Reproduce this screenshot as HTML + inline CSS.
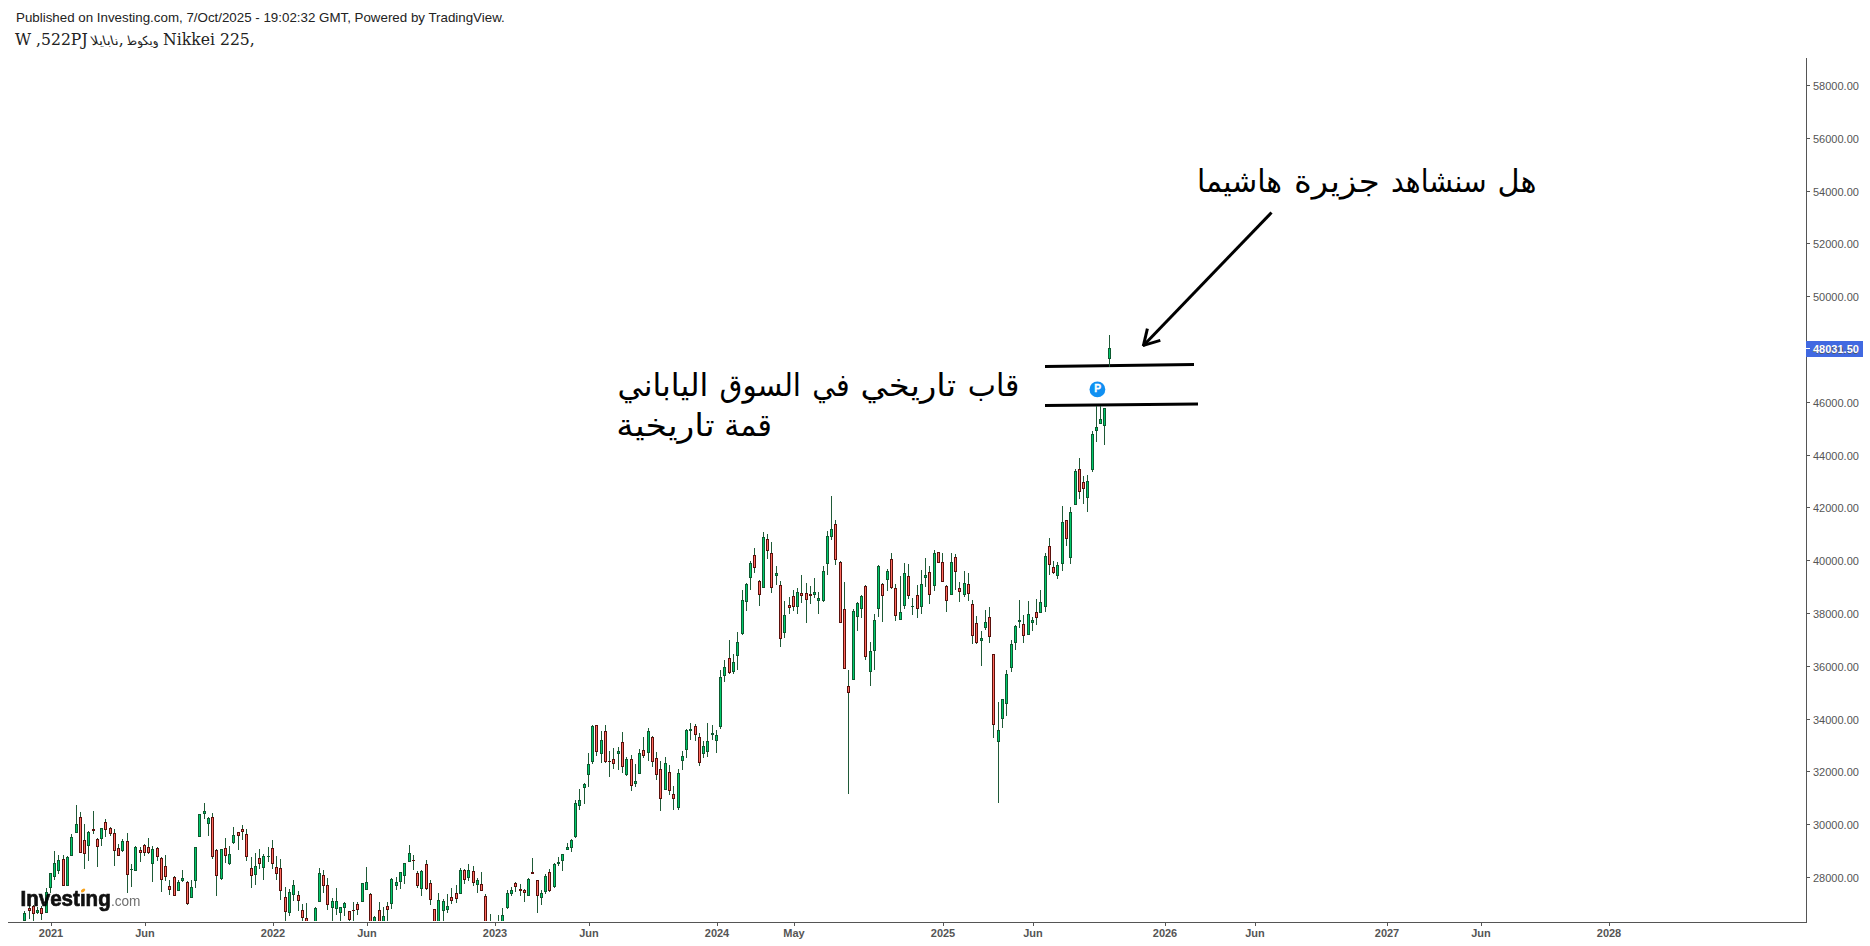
<!DOCTYPE html>
<html lang="ar"><head><meta charset="utf-8"><title>Nikkei 225</title>
<style>
html,body{margin:0;padding:0;background:#fff;}
body{width:1870px;height:946px;position:relative;overflow:hidden;font-family:"Liberation Sans",sans-serif;}
.t{position:absolute;white-space:nowrap;line-height:1;}
.pub{left:16px;top:11px;font-size:13.33px;color:#222;}
.sym{left:15px;top:31px;font-size:17.4px;color:#222;font-family:"DejaVu Serif Condensed","DejaVu Serif","DejaVu Sans",serif;font-stretch:condensed;}
.sa{display:inline-block;font-family:"DejaVu Sans",sans-serif;font-size:12.5px;font-stretch:normal;text-align:center;}
.sa1{width:27px;margin-left:3.5px;margin-right:0.5px;transform:skewX(14deg) scaleX(1.08);}
.sa2{width:30px;margin-left:0px;margin-right:-0.5px;transform:skewX(14deg) scaleX(0.92);}
.yl{font-size:11px;color:#555;left:1813px;}
.xl{font-size:11px;font-weight:bold;color:#555;transform:translateX(-50%);top:928px;}
.pl{left:1813px;top:343.5px;font-size:11px;font-weight:bold;color:#fff;}
.ar{font-family:"DejaVu Sans",sans-serif;color:#000;direction:rtl;}
</style></head><body>

<svg width="1870" height="946" viewBox="0 0 1870 946" style="position:absolute;left:0;top:0" shape-rendering="crispEdges">
<defs><clipPath id="plot"><rect x="8" y="57" width="1798" height="864"/></clipPath></defs>
<g shape-rendering="auto" stroke="#000" fill="none"><line x1="1045" y1="366.5" x2="1194" y2="364.5" stroke-width="3"/><line x1="1045" y1="405.5" x2="1198" y2="404.1" stroke-width="3"/></g>
<g clip-path="url(#plot)">
<rect x="24" y="911" width="1" height="10" fill="#1f5a37"/>
<rect x="23" y="913" width="3" height="8" fill="#0d5a30"/>
<rect x="24" y="914" width="1" height="6" fill="#00c96b"/>
<rect x="29" y="905" width="1" height="14" fill="#1f5a37"/>
<rect x="28" y="908" width="3" height="3" fill="#5a100c"/>
<rect x="29" y="909" width="1" height="1" fill="#ff6a5f"/>
<rect x="33" y="905" width="1" height="16" fill="#1f5a37"/>
<rect x="32" y="906" width="3" height="8" fill="#5a100c"/>
<rect x="33" y="907" width="1" height="6" fill="#ff6a5f"/>
<rect x="37" y="907" width="1" height="7" fill="#1f5a37"/>
<rect x="36" y="910" width="3" height="3" fill="#0d5a30"/>
<rect x="37" y="911" width="1" height="1" fill="#00c96b"/>
<rect x="41" y="906" width="1" height="14" fill="#1f5a37"/>
<rect x="40" y="908" width="3" height="6" fill="#5a100c"/>
<rect x="41" y="909" width="1" height="4" fill="#ff6a5f"/>
<rect x="46" y="888" width="1" height="25" fill="#1f5a37"/>
<rect x="45" y="892" width="3" height="21" fill="#0d5a30"/>
<rect x="46" y="893" width="1" height="19" fill="#00c96b"/>
<rect x="50" y="873" width="1" height="20" fill="#1f5a37"/>
<rect x="49" y="873" width="3" height="15" fill="#0d5a30"/>
<rect x="50" y="874" width="1" height="13" fill="#00c96b"/>
<rect x="54" y="851" width="1" height="29" fill="#1f5a37"/>
<rect x="53" y="863" width="3" height="14" fill="#0d5a30"/>
<rect x="54" y="864" width="1" height="12" fill="#00c96b"/>
<rect x="58" y="855" width="1" height="19" fill="#1f5a37"/>
<rect x="57" y="860" width="3" height="11" fill="#0d5a30"/>
<rect x="58" y="861" width="1" height="9" fill="#00c96b"/>
<rect x="63" y="855" width="1" height="31" fill="#1f5a37"/>
<rect x="62" y="859" width="3" height="27" fill="#5a100c"/>
<rect x="63" y="860" width="1" height="25" fill="#ff6a5f"/>
<rect x="67" y="856" width="1" height="30" fill="#1f5a37"/>
<rect x="66" y="857" width="3" height="29" fill="#0d5a30"/>
<rect x="67" y="858" width="1" height="27" fill="#00c96b"/>
<rect x="71" y="834" width="1" height="22" fill="#1f5a37"/>
<rect x="70" y="837" width="3" height="19" fill="#0d5a30"/>
<rect x="71" y="838" width="1" height="17" fill="#00c96b"/>
<rect x="76" y="805" width="1" height="28" fill="#1f5a37"/>
<rect x="75" y="824" width="3" height="9" fill="#0d5a30"/>
<rect x="76" y="825" width="1" height="7" fill="#00c96b"/>
<rect x="80" y="812" width="1" height="41" fill="#1f5a37"/>
<rect x="79" y="817" width="3" height="36" fill="#5a100c"/>
<rect x="80" y="818" width="1" height="34" fill="#ff6a5f"/>
<rect x="84" y="824" width="1" height="45" fill="#1f5a37"/>
<rect x="83" y="840" width="3" height="14" fill="#5a100c"/>
<rect x="84" y="841" width="1" height="12" fill="#ff6a5f"/>
<rect x="88" y="831" width="1" height="30" fill="#1f5a37"/>
<rect x="87" y="832" width="3" height="14" fill="#0d5a30"/>
<rect x="88" y="833" width="1" height="12" fill="#00c96b"/>
<rect x="93" y="811" width="1" height="23" fill="#1f5a37"/>
<rect x="92" y="829" width="3" height="2" fill="#5a100c"/>
<rect x="97" y="838" width="1" height="29" fill="#1f5a37"/>
<rect x="96" y="839" width="3" height="8" fill="#5a100c"/>
<rect x="97" y="840" width="1" height="6" fill="#ff6a5f"/>
<rect x="101" y="828" width="1" height="18" fill="#1f5a37"/>
<rect x="100" y="828" width="3" height="11" fill="#0d5a30"/>
<rect x="101" y="829" width="1" height="9" fill="#00c96b"/>
<rect x="105" y="819" width="1" height="18" fill="#1f5a37"/>
<rect x="104" y="822" width="3" height="8" fill="#5a100c"/>
<rect x="105" y="823" width="1" height="6" fill="#ff6a5f"/>
<rect x="110" y="827" width="1" height="9" fill="#1f5a37"/>
<rect x="109" y="828" width="3" height="6" fill="#5a100c"/>
<rect x="110" y="829" width="1" height="4" fill="#ff6a5f"/>
<rect x="114" y="829" width="1" height="37" fill="#1f5a37"/>
<rect x="113" y="833" width="3" height="18" fill="#5a100c"/>
<rect x="114" y="834" width="1" height="16" fill="#ff6a5f"/>
<rect x="118" y="844" width="1" height="12" fill="#1f5a37"/>
<rect x="117" y="848" width="3" height="8" fill="#5a100c"/>
<rect x="118" y="849" width="1" height="6" fill="#ff6a5f"/>
<rect x="122" y="839" width="1" height="13" fill="#1f5a37"/>
<rect x="121" y="841" width="3" height="10" fill="#0d5a30"/>
<rect x="122" y="842" width="1" height="8" fill="#00c96b"/>
<rect x="127" y="833" width="1" height="60" fill="#1f5a37"/>
<rect x="126" y="841" width="3" height="34" fill="#5a100c"/>
<rect x="127" y="842" width="1" height="32" fill="#ff6a5f"/>
<rect x="131" y="864" width="1" height="23" fill="#1f5a37"/>
<rect x="130" y="869" width="3" height="1" fill="#0d5a30"/>
<rect x="135" y="846" width="1" height="25" fill="#1f5a37"/>
<rect x="134" y="847" width="3" height="24" fill="#0d5a30"/>
<rect x="135" y="848" width="1" height="22" fill="#00c96b"/>
<rect x="140" y="847" width="1" height="15" fill="#1f5a37"/>
<rect x="139" y="850" width="3" height="3" fill="#5a100c"/>
<rect x="140" y="851" width="1" height="1" fill="#ff6a5f"/>
<rect x="144" y="844" width="1" height="12" fill="#1f5a37"/>
<rect x="143" y="845" width="3" height="8" fill="#5a100c"/>
<rect x="144" y="846" width="1" height="6" fill="#ff6a5f"/>
<rect x="148" y="838" width="1" height="16" fill="#1f5a37"/>
<rect x="147" y="847" width="3" height="6" fill="#5a100c"/>
<rect x="148" y="848" width="1" height="4" fill="#ff6a5f"/>
<rect x="152" y="846" width="1" height="36" fill="#1f5a37"/>
<rect x="151" y="849" width="3" height="15" fill="#0d5a30"/>
<rect x="152" y="850" width="1" height="13" fill="#00c96b"/>
<rect x="157" y="847" width="1" height="14" fill="#1f5a37"/>
<rect x="156" y="848" width="3" height="9" fill="#5a100c"/>
<rect x="157" y="849" width="1" height="7" fill="#ff6a5f"/>
<rect x="161" y="857" width="1" height="35" fill="#1f5a37"/>
<rect x="160" y="858" width="3" height="22" fill="#5a100c"/>
<rect x="161" y="859" width="1" height="20" fill="#ff6a5f"/>
<rect x="165" y="855" width="1" height="26" fill="#1f5a37"/>
<rect x="164" y="866" width="3" height="11" fill="#5a100c"/>
<rect x="165" y="867" width="1" height="9" fill="#ff6a5f"/>
<rect x="169" y="880" width="1" height="15" fill="#1f5a37"/>
<rect x="168" y="886" width="3" height="4" fill="#5a100c"/>
<rect x="169" y="887" width="1" height="2" fill="#ff6a5f"/>
<rect x="174" y="876" width="1" height="20" fill="#1f5a37"/>
<rect x="173" y="877" width="3" height="19" fill="#5a100c"/>
<rect x="174" y="878" width="1" height="17" fill="#ff6a5f"/>
<rect x="178" y="880" width="1" height="11" fill="#1f5a37"/>
<rect x="177" y="882" width="3" height="9" fill="#0d5a30"/>
<rect x="178" y="883" width="1" height="7" fill="#00c96b"/>
<rect x="182" y="870" width="1" height="12" fill="#1f5a37"/>
<rect x="181" y="878" width="3" height="3" fill="#0d5a30"/>
<rect x="182" y="879" width="1" height="1" fill="#00c96b"/>
<rect x="187" y="881" width="1" height="24" fill="#1f5a37"/>
<rect x="186" y="882" width="3" height="22" fill="#5a100c"/>
<rect x="187" y="883" width="1" height="20" fill="#ff6a5f"/>
<rect x="191" y="880" width="1" height="18" fill="#1f5a37"/>
<rect x="190" y="887" width="3" height="11" fill="#0d5a30"/>
<rect x="191" y="888" width="1" height="9" fill="#00c96b"/>
<rect x="195" y="847" width="1" height="41" fill="#1f5a37"/>
<rect x="194" y="847" width="3" height="34" fill="#0d5a30"/>
<rect x="195" y="848" width="1" height="32" fill="#00c96b"/>
<rect x="199" y="814" width="1" height="23" fill="#1f5a37"/>
<rect x="198" y="814" width="3" height="23" fill="#0d5a30"/>
<rect x="199" y="815" width="1" height="21" fill="#00c96b"/>
<rect x="204" y="803" width="1" height="16" fill="#1f5a37"/>
<rect x="203" y="811" width="3" height="3" fill="#0d5a30"/>
<rect x="204" y="812" width="1" height="1" fill="#00c96b"/>
<rect x="208" y="817" width="1" height="19" fill="#1f5a37"/>
<rect x="207" y="818" width="3" height="6" fill="#0d5a30"/>
<rect x="208" y="819" width="1" height="4" fill="#00c96b"/>
<rect x="212" y="813" width="1" height="46" fill="#1f5a37"/>
<rect x="211" y="817" width="3" height="40" fill="#5a100c"/>
<rect x="212" y="818" width="1" height="38" fill="#ff6a5f"/>
<rect x="216" y="849" width="1" height="47" fill="#1f5a37"/>
<rect x="215" y="850" width="3" height="26" fill="#5a100c"/>
<rect x="216" y="851" width="1" height="24" fill="#ff6a5f"/>
<rect x="221" y="849" width="1" height="31" fill="#1f5a37"/>
<rect x="220" y="849" width="3" height="30" fill="#0d5a30"/>
<rect x="221" y="850" width="1" height="28" fill="#00c96b"/>
<rect x="225" y="838" width="1" height="25" fill="#1f5a37"/>
<rect x="224" y="848" width="3" height="8" fill="#5a100c"/>
<rect x="225" y="849" width="1" height="6" fill="#ff6a5f"/>
<rect x="229" y="846" width="1" height="19" fill="#1f5a37"/>
<rect x="228" y="854" width="3" height="10" fill="#0d5a30"/>
<rect x="229" y="855" width="1" height="8" fill="#00c96b"/>
<rect x="233" y="827" width="1" height="17" fill="#1f5a37"/>
<rect x="232" y="835" width="3" height="8" fill="#0d5a30"/>
<rect x="233" y="836" width="1" height="6" fill="#00c96b"/>
<rect x="238" y="832" width="1" height="18" fill="#1f5a37"/>
<rect x="237" y="832" width="3" height="4" fill="#5a100c"/>
<rect x="238" y="833" width="1" height="2" fill="#ff6a5f"/>
<rect x="242" y="825" width="1" height="15" fill="#1f5a37"/>
<rect x="241" y="829" width="3" height="3" fill="#5a100c"/>
<rect x="242" y="830" width="1" height="1" fill="#ff6a5f"/>
<rect x="246" y="829" width="1" height="32" fill="#1f5a37"/>
<rect x="245" y="834" width="3" height="23" fill="#5a100c"/>
<rect x="246" y="835" width="1" height="21" fill="#ff6a5f"/>
<rect x="251" y="857" width="1" height="31" fill="#1f5a37"/>
<rect x="250" y="868" width="3" height="8" fill="#5a100c"/>
<rect x="251" y="869" width="1" height="6" fill="#ff6a5f"/>
<rect x="255" y="853" width="1" height="32" fill="#1f5a37"/>
<rect x="254" y="866" width="3" height="9" fill="#0d5a30"/>
<rect x="255" y="867" width="1" height="7" fill="#00c96b"/>
<rect x="259" y="849" width="1" height="20" fill="#1f5a37"/>
<rect x="258" y="858" width="3" height="6" fill="#5a100c"/>
<rect x="259" y="859" width="1" height="4" fill="#ff6a5f"/>
<rect x="263" y="854" width="1" height="26" fill="#1f5a37"/>
<rect x="262" y="856" width="3" height="12" fill="#0d5a30"/>
<rect x="263" y="857" width="1" height="10" fill="#00c96b"/>
<rect x="268" y="847" width="1" height="15" fill="#1f5a37"/>
<rect x="267" y="856" width="3" height="1" fill="#0d5a30"/>
<rect x="272" y="840" width="1" height="29" fill="#1f5a37"/>
<rect x="271" y="848" width="3" height="16" fill="#5a100c"/>
<rect x="272" y="849" width="1" height="14" fill="#ff6a5f"/>
<rect x="276" y="856" width="1" height="24" fill="#1f5a37"/>
<rect x="275" y="867" width="3" height="7" fill="#5a100c"/>
<rect x="276" y="868" width="1" height="5" fill="#ff6a5f"/>
<rect x="280" y="859" width="1" height="41" fill="#1f5a37"/>
<rect x="279" y="868" width="3" height="23" fill="#5a100c"/>
<rect x="280" y="869" width="1" height="21" fill="#ff6a5f"/>
<rect x="285" y="887" width="1" height="39" fill="#1f5a37"/>
<rect x="284" y="897" width="3" height="15" fill="#5a100c"/>
<rect x="285" y="898" width="1" height="13" fill="#ff6a5f"/>
<rect x="289" y="889" width="1" height="27" fill="#1f5a37"/>
<rect x="288" y="892" width="3" height="21" fill="#0d5a30"/>
<rect x="289" y="893" width="1" height="19" fill="#00c96b"/>
<rect x="293" y="880" width="1" height="21" fill="#1f5a37"/>
<rect x="292" y="885" width="3" height="10" fill="#0d5a30"/>
<rect x="293" y="886" width="1" height="8" fill="#00c96b"/>
<rect x="298" y="891" width="1" height="20" fill="#1f5a37"/>
<rect x="297" y="895" width="3" height="6" fill="#5a100c"/>
<rect x="298" y="896" width="1" height="4" fill="#ff6a5f"/>
<rect x="302" y="904" width="1" height="22" fill="#1f5a37"/>
<rect x="301" y="910" width="3" height="8" fill="#5a100c"/>
<rect x="302" y="911" width="1" height="6" fill="#ff6a5f"/>
<rect x="306" y="903" width="1" height="28" fill="#1f5a37"/>
<rect x="305" y="918" width="3" height="11" fill="#5a100c"/>
<rect x="306" y="919" width="1" height="9" fill="#ff6a5f"/>
<rect x="315" y="907" width="1" height="24" fill="#1f5a37"/>
<rect x="314" y="908" width="3" height="21" fill="#0d5a30"/>
<rect x="315" y="909" width="1" height="19" fill="#00c96b"/>
<rect x="319" y="868" width="1" height="34" fill="#1f5a37"/>
<rect x="318" y="873" width="3" height="29" fill="#0d5a30"/>
<rect x="319" y="874" width="1" height="27" fill="#00c96b"/>
<rect x="323" y="870" width="1" height="23" fill="#1f5a37"/>
<rect x="322" y="875" width="3" height="11" fill="#5a100c"/>
<rect x="323" y="876" width="1" height="9" fill="#ff6a5f"/>
<rect x="327" y="878" width="1" height="32" fill="#1f5a37"/>
<rect x="326" y="885" width="3" height="20" fill="#5a100c"/>
<rect x="327" y="886" width="1" height="18" fill="#ff6a5f"/>
<rect x="332" y="898" width="1" height="28" fill="#1f5a37"/>
<rect x="331" y="901" width="3" height="7" fill="#0d5a30"/>
<rect x="332" y="902" width="1" height="5" fill="#00c96b"/>
<rect x="336" y="888" width="1" height="27" fill="#1f5a37"/>
<rect x="335" y="901" width="3" height="8" fill="#0d5a30"/>
<rect x="336" y="902" width="1" height="6" fill="#00c96b"/>
<rect x="340" y="907" width="1" height="19" fill="#1f5a37"/>
<rect x="339" y="907" width="3" height="6" fill="#0d5a30"/>
<rect x="340" y="908" width="1" height="4" fill="#00c96b"/>
<rect x="344" y="902" width="1" height="14" fill="#1f5a37"/>
<rect x="343" y="903" width="3" height="5" fill="#0d5a30"/>
<rect x="344" y="904" width="1" height="3" fill="#00c96b"/>
<rect x="349" y="911" width="1" height="10" fill="#1f5a37"/>
<rect x="348" y="911" width="3" height="9" fill="#5a100c"/>
<rect x="349" y="912" width="1" height="7" fill="#ff6a5f"/>
<rect x="353" y="902" width="1" height="24" fill="#1f5a37"/>
<rect x="352" y="910" width="3" height="1" fill="#5a100c"/>
<rect x="357" y="902" width="1" height="13" fill="#1f5a37"/>
<rect x="356" y="904" width="3" height="6" fill="#5a100c"/>
<rect x="357" y="905" width="1" height="4" fill="#ff6a5f"/>
<rect x="362" y="883" width="1" height="19" fill="#1f5a37"/>
<rect x="361" y="883" width="3" height="19" fill="#0d5a30"/>
<rect x="362" y="884" width="1" height="17" fill="#00c96b"/>
<rect x="366" y="867" width="1" height="23" fill="#1f5a37"/>
<rect x="365" y="882" width="3" height="8" fill="#0d5a30"/>
<rect x="366" y="883" width="1" height="6" fill="#00c96b"/>
<rect x="370" y="893" width="1" height="38" fill="#1f5a37"/>
<rect x="369" y="894" width="3" height="35" fill="#5a100c"/>
<rect x="370" y="895" width="1" height="33" fill="#ff6a5f"/>
<rect x="374" y="916" width="1" height="15" fill="#1f5a37"/>
<rect x="373" y="917" width="3" height="12" fill="#0d5a30"/>
<rect x="374" y="918" width="1" height="10" fill="#00c96b"/>
<rect x="379" y="902" width="1" height="29" fill="#1f5a37"/>
<rect x="378" y="910" width="3" height="19" fill="#5a100c"/>
<rect x="379" y="911" width="1" height="17" fill="#ff6a5f"/>
<rect x="383" y="907" width="1" height="24" fill="#1f5a37"/>
<rect x="382" y="916" width="3" height="13" fill="#0d5a30"/>
<rect x="383" y="917" width="1" height="11" fill="#00c96b"/>
<rect x="387" y="902" width="1" height="24" fill="#1f5a37"/>
<rect x="386" y="906" width="3" height="4" fill="#5a100c"/>
<rect x="387" y="907" width="1" height="2" fill="#ff6a5f"/>
<rect x="391" y="878" width="1" height="31" fill="#1f5a37"/>
<rect x="390" y="879" width="3" height="25" fill="#0d5a30"/>
<rect x="391" y="880" width="1" height="23" fill="#00c96b"/>
<rect x="396" y="877" width="1" height="13" fill="#1f5a37"/>
<rect x="395" y="882" width="3" height="4" fill="#0d5a30"/>
<rect x="396" y="883" width="1" height="2" fill="#00c96b"/>
<rect x="400" y="872" width="1" height="17" fill="#1f5a37"/>
<rect x="399" y="872" width="3" height="10" fill="#0d5a30"/>
<rect x="400" y="873" width="1" height="8" fill="#00c96b"/>
<rect x="404" y="863" width="1" height="21" fill="#1f5a37"/>
<rect x="403" y="863" width="3" height="13" fill="#0d5a30"/>
<rect x="404" y="864" width="1" height="11" fill="#00c96b"/>
<rect x="409" y="845" width="1" height="17" fill="#1f5a37"/>
<rect x="408" y="853" width="3" height="9" fill="#0d5a30"/>
<rect x="409" y="854" width="1" height="7" fill="#00c96b"/>
<rect x="413" y="855" width="1" height="15" fill="#1f5a37"/>
<rect x="412" y="860" width="3" height="1" fill="#5a100c"/>
<rect x="417" y="871" width="1" height="17" fill="#1f5a37"/>
<rect x="416" y="873" width="3" height="13" fill="#5a100c"/>
<rect x="417" y="874" width="1" height="11" fill="#ff6a5f"/>
<rect x="421" y="870" width="1" height="26" fill="#1f5a37"/>
<rect x="420" y="871" width="3" height="18" fill="#0d5a30"/>
<rect x="421" y="872" width="1" height="16" fill="#00c96b"/>
<rect x="426" y="860" width="1" height="30" fill="#1f5a37"/>
<rect x="425" y="864" width="3" height="25" fill="#5a100c"/>
<rect x="426" y="865" width="1" height="23" fill="#ff6a5f"/>
<rect x="430" y="880" width="1" height="25" fill="#1f5a37"/>
<rect x="429" y="883" width="3" height="17" fill="#5a100c"/>
<rect x="430" y="884" width="1" height="15" fill="#ff6a5f"/>
<rect x="434" y="909" width="1" height="22" fill="#1f5a37"/>
<rect x="433" y="909" width="3" height="20" fill="#5a100c"/>
<rect x="434" y="910" width="1" height="18" fill="#ff6a5f"/>
<rect x="438" y="893" width="1" height="38" fill="#1f5a37"/>
<rect x="437" y="900" width="3" height="29" fill="#0d5a30"/>
<rect x="438" y="901" width="1" height="27" fill="#00c96b"/>
<rect x="443" y="899" width="1" height="27" fill="#1f5a37"/>
<rect x="442" y="901" width="3" height="10" fill="#0d5a30"/>
<rect x="443" y="902" width="1" height="8" fill="#00c96b"/>
<rect x="447" y="894" width="1" height="19" fill="#1f5a37"/>
<rect x="446" y="906" width="3" height="4" fill="#0d5a30"/>
<rect x="447" y="907" width="1" height="2" fill="#00c96b"/>
<rect x="451" y="888" width="1" height="16" fill="#1f5a37"/>
<rect x="450" y="897" width="3" height="4" fill="#5a100c"/>
<rect x="451" y="898" width="1" height="2" fill="#ff6a5f"/>
<rect x="456" y="885" width="1" height="18" fill="#1f5a37"/>
<rect x="455" y="893" width="3" height="6" fill="#5a100c"/>
<rect x="456" y="894" width="1" height="4" fill="#ff6a5f"/>
<rect x="460" y="868" width="1" height="26" fill="#1f5a37"/>
<rect x="459" y="870" width="3" height="24" fill="#0d5a30"/>
<rect x="460" y="871" width="1" height="22" fill="#00c96b"/>
<rect x="464" y="869" width="1" height="15" fill="#1f5a37"/>
<rect x="463" y="870" width="3" height="10" fill="#5a100c"/>
<rect x="464" y="871" width="1" height="8" fill="#ff6a5f"/>
<rect x="468" y="864" width="1" height="17" fill="#1f5a37"/>
<rect x="467" y="870" width="3" height="8" fill="#0d5a30"/>
<rect x="468" y="871" width="1" height="6" fill="#00c96b"/>
<rect x="473" y="866" width="1" height="20" fill="#1f5a37"/>
<rect x="472" y="871" width="3" height="12" fill="#5a100c"/>
<rect x="473" y="872" width="1" height="10" fill="#ff6a5f"/>
<rect x="477" y="878" width="1" height="15" fill="#1f5a37"/>
<rect x="476" y="880" width="3" height="5" fill="#0d5a30"/>
<rect x="477" y="881" width="1" height="3" fill="#00c96b"/>
<rect x="481" y="872" width="1" height="19" fill="#1f5a37"/>
<rect x="480" y="884" width="3" height="7" fill="#5a100c"/>
<rect x="481" y="885" width="1" height="5" fill="#ff6a5f"/>
<rect x="485" y="894" width="1" height="37" fill="#1f5a37"/>
<rect x="484" y="896" width="3" height="33" fill="#5a100c"/>
<rect x="485" y="897" width="1" height="31" fill="#ff6a5f"/>
<rect x="490" y="914" width="1" height="17" fill="#1f5a37"/>
<rect x="489" y="926" width="3" height="3" fill="#0d5a30"/>
<rect x="490" y="927" width="1" height="1" fill="#00c96b"/>
<rect x="498" y="915" width="1" height="16" fill="#1f5a37"/>
<rect x="497" y="926" width="3" height="3" fill="#0d5a30"/>
<rect x="498" y="927" width="1" height="1" fill="#00c96b"/>
<rect x="502" y="908" width="1" height="23" fill="#1f5a37"/>
<rect x="501" y="915" width="3" height="14" fill="#0d5a30"/>
<rect x="502" y="916" width="1" height="12" fill="#00c96b"/>
<rect x="507" y="890" width="1" height="19" fill="#1f5a37"/>
<rect x="506" y="893" width="3" height="15" fill="#0d5a30"/>
<rect x="507" y="894" width="1" height="13" fill="#00c96b"/>
<rect x="511" y="887" width="1" height="9" fill="#1f5a37"/>
<rect x="510" y="890" width="3" height="4" fill="#0d5a30"/>
<rect x="511" y="891" width="1" height="2" fill="#00c96b"/>
<rect x="515" y="882" width="1" height="10" fill="#1f5a37"/>
<rect x="514" y="883" width="3" height="4" fill="#5a100c"/>
<rect x="515" y="884" width="1" height="2" fill="#ff6a5f"/>
<rect x="520" y="884" width="1" height="12" fill="#1f5a37"/>
<rect x="519" y="889" width="3" height="2" fill="#5a100c"/>
<rect x="524" y="889" width="1" height="13" fill="#1f5a37"/>
<rect x="523" y="890" width="3" height="3" fill="#5a100c"/>
<rect x="524" y="891" width="1" height="1" fill="#ff6a5f"/>
<rect x="528" y="878" width="1" height="18" fill="#1f5a37"/>
<rect x="527" y="879" width="3" height="17" fill="#0d5a30"/>
<rect x="528" y="880" width="1" height="15" fill="#00c96b"/>
<rect x="532" y="858" width="1" height="16" fill="#1f5a37"/>
<rect x="531" y="872" width="3" height="2" fill="#5a100c"/>
<rect x="537" y="880" width="1" height="33" fill="#1f5a37"/>
<rect x="536" y="880" width="3" height="16" fill="#5a100c"/>
<rect x="537" y="881" width="1" height="14" fill="#ff6a5f"/>
<rect x="541" y="890" width="1" height="15" fill="#1f5a37"/>
<rect x="540" y="893" width="3" height="5" fill="#0d5a30"/>
<rect x="541" y="894" width="1" height="3" fill="#00c96b"/>
<rect x="545" y="874" width="1" height="20" fill="#1f5a37"/>
<rect x="544" y="876" width="3" height="16" fill="#0d5a30"/>
<rect x="545" y="877" width="1" height="14" fill="#00c96b"/>
<rect x="549" y="869" width="1" height="23" fill="#1f5a37"/>
<rect x="548" y="872" width="3" height="19" fill="#5a100c"/>
<rect x="549" y="873" width="1" height="17" fill="#ff6a5f"/>
<rect x="554" y="863" width="1" height="25" fill="#1f5a37"/>
<rect x="553" y="864" width="3" height="23" fill="#0d5a30"/>
<rect x="554" y="865" width="1" height="21" fill="#00c96b"/>
<rect x="558" y="857" width="1" height="9" fill="#1f5a37"/>
<rect x="557" y="862" width="3" height="2" fill="#0d5a30"/>
<rect x="562" y="854" width="1" height="17" fill="#1f5a37"/>
<rect x="561" y="854" width="3" height="7" fill="#0d5a30"/>
<rect x="562" y="855" width="1" height="5" fill="#00c96b"/>
<rect x="567" y="843" width="1" height="7" fill="#1f5a37"/>
<rect x="566" y="847" width="3" height="3" fill="#0d5a30"/>
<rect x="567" y="848" width="1" height="1" fill="#00c96b"/>
<rect x="571" y="839" width="1" height="13" fill="#1f5a37"/>
<rect x="570" y="840" width="3" height="8" fill="#0d5a30"/>
<rect x="571" y="841" width="1" height="6" fill="#00c96b"/>
<rect x="575" y="800" width="1" height="38" fill="#1f5a37"/>
<rect x="574" y="803" width="3" height="34" fill="#0d5a30"/>
<rect x="575" y="804" width="1" height="32" fill="#00c96b"/>
<rect x="579" y="789" width="1" height="21" fill="#1f5a37"/>
<rect x="578" y="800" width="3" height="6" fill="#0d5a30"/>
<rect x="579" y="801" width="1" height="4" fill="#00c96b"/>
<rect x="584" y="783" width="1" height="21" fill="#1f5a37"/>
<rect x="583" y="784" width="3" height="4" fill="#0d5a30"/>
<rect x="584" y="785" width="1" height="2" fill="#00c96b"/>
<rect x="588" y="753" width="1" height="34" fill="#1f5a37"/>
<rect x="587" y="764" width="3" height="11" fill="#0d5a30"/>
<rect x="588" y="765" width="1" height="9" fill="#00c96b"/>
<rect x="592" y="725" width="1" height="39" fill="#1f5a37"/>
<rect x="591" y="726" width="3" height="36" fill="#0d5a30"/>
<rect x="592" y="727" width="1" height="34" fill="#00c96b"/>
<rect x="596" y="725" width="1" height="31" fill="#1f5a37"/>
<rect x="595" y="725" width="3" height="27" fill="#5a100c"/>
<rect x="596" y="726" width="1" height="25" fill="#ff6a5f"/>
<rect x="601" y="731" width="1" height="32" fill="#1f5a37"/>
<rect x="600" y="740" width="3" height="14" fill="#0d5a30"/>
<rect x="601" y="741" width="1" height="12" fill="#00c96b"/>
<rect x="605" y="725" width="1" height="38" fill="#1f5a37"/>
<rect x="604" y="731" width="3" height="31" fill="#5a100c"/>
<rect x="605" y="732" width="1" height="29" fill="#ff6a5f"/>
<rect x="609" y="751" width="1" height="26" fill="#1f5a37"/>
<rect x="608" y="761" width="3" height="1" fill="#5a100c"/>
<rect x="613" y="748" width="1" height="21" fill="#1f5a37"/>
<rect x="612" y="759" width="3" height="5" fill="#5a100c"/>
<rect x="613" y="760" width="1" height="3" fill="#ff6a5f"/>
<rect x="618" y="747" width="1" height="23" fill="#1f5a37"/>
<rect x="617" y="751" width="3" height="3" fill="#0d5a30"/>
<rect x="618" y="752" width="1" height="1" fill="#00c96b"/>
<rect x="622" y="732" width="1" height="41" fill="#1f5a37"/>
<rect x="621" y="742" width="3" height="25" fill="#5a100c"/>
<rect x="622" y="743" width="1" height="23" fill="#ff6a5f"/>
<rect x="626" y="757" width="1" height="19" fill="#1f5a37"/>
<rect x="625" y="759" width="3" height="16" fill="#0d5a30"/>
<rect x="626" y="760" width="1" height="14" fill="#00c96b"/>
<rect x="631" y="755" width="1" height="36" fill="#1f5a37"/>
<rect x="630" y="759" width="3" height="27" fill="#5a100c"/>
<rect x="631" y="760" width="1" height="25" fill="#ff6a5f"/>
<rect x="635" y="764" width="1" height="23" fill="#1f5a37"/>
<rect x="634" y="781" width="3" height="3" fill="#0d5a30"/>
<rect x="635" y="782" width="1" height="1" fill="#00c96b"/>
<rect x="639" y="749" width="1" height="25" fill="#1f5a37"/>
<rect x="638" y="753" width="3" height="21" fill="#0d5a30"/>
<rect x="639" y="754" width="1" height="19" fill="#00c96b"/>
<rect x="643" y="737" width="1" height="21" fill="#1f5a37"/>
<rect x="642" y="750" width="3" height="6" fill="#5a100c"/>
<rect x="643" y="751" width="1" height="4" fill="#ff6a5f"/>
<rect x="648" y="728" width="1" height="33" fill="#1f5a37"/>
<rect x="647" y="731" width="3" height="22" fill="#0d5a30"/>
<rect x="648" y="732" width="1" height="20" fill="#00c96b"/>
<rect x="652" y="736" width="1" height="31" fill="#1f5a37"/>
<rect x="651" y="737" width="3" height="25" fill="#5a100c"/>
<rect x="652" y="738" width="1" height="23" fill="#ff6a5f"/>
<rect x="656" y="752" width="1" height="28" fill="#1f5a37"/>
<rect x="655" y="758" width="3" height="17" fill="#5a100c"/>
<rect x="656" y="759" width="1" height="15" fill="#ff6a5f"/>
<rect x="660" y="761" width="1" height="50" fill="#1f5a37"/>
<rect x="659" y="769" width="3" height="30" fill="#5a100c"/>
<rect x="660" y="770" width="1" height="28" fill="#ff6a5f"/>
<rect x="665" y="757" width="1" height="33" fill="#1f5a37"/>
<rect x="664" y="763" width="3" height="27" fill="#0d5a30"/>
<rect x="665" y="764" width="1" height="25" fill="#00c96b"/>
<rect x="669" y="765" width="1" height="30" fill="#1f5a37"/>
<rect x="668" y="772" width="3" height="19" fill="#5a100c"/>
<rect x="669" y="773" width="1" height="17" fill="#ff6a5f"/>
<rect x="673" y="786" width="1" height="24" fill="#1f5a37"/>
<rect x="672" y="794" width="3" height="5" fill="#5a100c"/>
<rect x="673" y="795" width="1" height="3" fill="#ff6a5f"/>
<rect x="678" y="769" width="1" height="41" fill="#1f5a37"/>
<rect x="677" y="773" width="3" height="35" fill="#0d5a30"/>
<rect x="678" y="774" width="1" height="33" fill="#00c96b"/>
<rect x="682" y="751" width="1" height="19" fill="#1f5a37"/>
<rect x="681" y="756" width="3" height="5" fill="#0d5a30"/>
<rect x="682" y="757" width="1" height="3" fill="#00c96b"/>
<rect x="686" y="729" width="1" height="29" fill="#1f5a37"/>
<rect x="685" y="730" width="3" height="20" fill="#0d5a30"/>
<rect x="686" y="731" width="1" height="18" fill="#00c96b"/>
<rect x="690" y="723" width="1" height="17" fill="#1f5a37"/>
<rect x="689" y="729" width="3" height="2" fill="#0d5a30"/>
<rect x="695" y="724" width="1" height="17" fill="#1f5a37"/>
<rect x="694" y="726" width="3" height="9" fill="#5a100c"/>
<rect x="695" y="727" width="1" height="7" fill="#ff6a5f"/>
<rect x="699" y="733" width="1" height="33" fill="#1f5a37"/>
<rect x="698" y="737" width="3" height="26" fill="#5a100c"/>
<rect x="699" y="738" width="1" height="24" fill="#ff6a5f"/>
<rect x="703" y="741" width="1" height="17" fill="#1f5a37"/>
<rect x="702" y="746" width="3" height="8" fill="#0d5a30"/>
<rect x="703" y="747" width="1" height="6" fill="#00c96b"/>
<rect x="707" y="723" width="1" height="34" fill="#1f5a37"/>
<rect x="706" y="741" width="3" height="11" fill="#0d5a30"/>
<rect x="707" y="742" width="1" height="9" fill="#00c96b"/>
<rect x="712" y="725" width="1" height="15" fill="#1f5a37"/>
<rect x="711" y="733" width="3" height="2" fill="#0d5a30"/>
<rect x="716" y="730" width="1" height="23" fill="#1f5a37"/>
<rect x="715" y="735" width="3" height="6" fill="#0d5a30"/>
<rect x="716" y="736" width="1" height="4" fill="#00c96b"/>
<rect x="720" y="670" width="1" height="59" fill="#1f5a37"/>
<rect x="719" y="677" width="3" height="50" fill="#0d5a30"/>
<rect x="720" y="678" width="1" height="48" fill="#00c96b"/>
<rect x="724" y="660" width="1" height="22" fill="#1f5a37"/>
<rect x="723" y="667" width="3" height="9" fill="#0d5a30"/>
<rect x="724" y="668" width="1" height="7" fill="#00c96b"/>
<rect x="729" y="640" width="1" height="34" fill="#1f5a37"/>
<rect x="728" y="658" width="3" height="15" fill="#5a100c"/>
<rect x="729" y="659" width="1" height="13" fill="#ff6a5f"/>
<rect x="733" y="654" width="1" height="20" fill="#1f5a37"/>
<rect x="732" y="662" width="3" height="10" fill="#0d5a30"/>
<rect x="733" y="663" width="1" height="8" fill="#00c96b"/>
<rect x="737" y="632" width="1" height="38" fill="#1f5a37"/>
<rect x="736" y="642" width="3" height="14" fill="#0d5a30"/>
<rect x="737" y="643" width="1" height="12" fill="#00c96b"/>
<rect x="742" y="590" width="1" height="45" fill="#1f5a37"/>
<rect x="741" y="600" width="3" height="34" fill="#0d5a30"/>
<rect x="742" y="601" width="1" height="32" fill="#00c96b"/>
<rect x="746" y="583" width="1" height="28" fill="#1f5a37"/>
<rect x="745" y="584" width="3" height="18" fill="#0d5a30"/>
<rect x="746" y="585" width="1" height="16" fill="#00c96b"/>
<rect x="750" y="561" width="1" height="29" fill="#1f5a37"/>
<rect x="749" y="563" width="3" height="15" fill="#0d5a30"/>
<rect x="750" y="564" width="1" height="13" fill="#00c96b"/>
<rect x="754" y="548" width="1" height="25" fill="#1f5a37"/>
<rect x="753" y="555" width="3" height="13" fill="#5a100c"/>
<rect x="754" y="556" width="1" height="11" fill="#ff6a5f"/>
<rect x="759" y="580" width="1" height="26" fill="#1f5a37"/>
<rect x="758" y="581" width="3" height="14" fill="#5a100c"/>
<rect x="759" y="582" width="1" height="12" fill="#ff6a5f"/>
<rect x="763" y="532" width="1" height="56" fill="#1f5a37"/>
<rect x="762" y="537" width="3" height="51" fill="#0d5a30"/>
<rect x="763" y="538" width="1" height="49" fill="#00c96b"/>
<rect x="767" y="534" width="1" height="25" fill="#1f5a37"/>
<rect x="766" y="539" width="3" height="12" fill="#5a100c"/>
<rect x="767" y="540" width="1" height="10" fill="#ff6a5f"/>
<rect x="771" y="542" width="1" height="51" fill="#1f5a37"/>
<rect x="770" y="553" width="3" height="35" fill="#5a100c"/>
<rect x="771" y="554" width="1" height="33" fill="#ff6a5f"/>
<rect x="776" y="566" width="1" height="19" fill="#1f5a37"/>
<rect x="775" y="573" width="3" height="3" fill="#0d5a30"/>
<rect x="776" y="574" width="1" height="1" fill="#00c96b"/>
<rect x="780" y="581" width="1" height="66" fill="#1f5a37"/>
<rect x="779" y="585" width="3" height="54" fill="#5a100c"/>
<rect x="780" y="586" width="1" height="52" fill="#ff6a5f"/>
<rect x="784" y="601" width="1" height="37" fill="#1f5a37"/>
<rect x="783" y="615" width="3" height="18" fill="#0d5a30"/>
<rect x="784" y="616" width="1" height="16" fill="#00c96b"/>
<rect x="789" y="597" width="1" height="17" fill="#1f5a37"/>
<rect x="788" y="605" width="3" height="3" fill="#5a100c"/>
<rect x="789" y="606" width="1" height="1" fill="#ff6a5f"/>
<rect x="793" y="590" width="1" height="21" fill="#1f5a37"/>
<rect x="792" y="596" width="3" height="11" fill="#5a100c"/>
<rect x="793" y="597" width="1" height="9" fill="#ff6a5f"/>
<rect x="797" y="588" width="1" height="26" fill="#1f5a37"/>
<rect x="796" y="592" width="3" height="15" fill="#0d5a30"/>
<rect x="797" y="593" width="1" height="13" fill="#00c96b"/>
<rect x="801" y="575" width="1" height="28" fill="#1f5a37"/>
<rect x="800" y="593" width="3" height="3" fill="#5a100c"/>
<rect x="801" y="594" width="1" height="1" fill="#ff6a5f"/>
<rect x="806" y="583" width="1" height="40" fill="#1f5a37"/>
<rect x="805" y="593" width="3" height="7" fill="#5a100c"/>
<rect x="806" y="594" width="1" height="5" fill="#ff6a5f"/>
<rect x="810" y="586" width="1" height="18" fill="#1f5a37"/>
<rect x="809" y="594" width="3" height="2" fill="#5a100c"/>
<rect x="814" y="578" width="1" height="20" fill="#1f5a37"/>
<rect x="813" y="592" width="3" height="3" fill="#0d5a30"/>
<rect x="814" y="593" width="1" height="1" fill="#00c96b"/>
<rect x="818" y="592" width="1" height="22" fill="#1f5a37"/>
<rect x="817" y="598" width="3" height="3" fill="#0d5a30"/>
<rect x="818" y="599" width="1" height="1" fill="#00c96b"/>
<rect x="823" y="566" width="1" height="36" fill="#1f5a37"/>
<rect x="822" y="571" width="3" height="30" fill="#0d5a30"/>
<rect x="823" y="572" width="1" height="28" fill="#00c96b"/>
<rect x="827" y="531" width="1" height="44" fill="#1f5a37"/>
<rect x="826" y="536" width="3" height="28" fill="#0d5a30"/>
<rect x="827" y="537" width="1" height="26" fill="#00c96b"/>
<rect x="831" y="496" width="1" height="44" fill="#1f5a37"/>
<rect x="830" y="529" width="3" height="8" fill="#0d5a30"/>
<rect x="831" y="530" width="1" height="6" fill="#00c96b"/>
<rect x="835" y="520" width="1" height="45" fill="#1f5a37"/>
<rect x="834" y="524" width="3" height="36" fill="#5a100c"/>
<rect x="835" y="525" width="1" height="34" fill="#ff6a5f"/>
<rect x="840" y="561" width="1" height="62" fill="#1f5a37"/>
<rect x="839" y="562" width="3" height="61" fill="#5a100c"/>
<rect x="840" y="563" width="1" height="59" fill="#ff6a5f"/>
<rect x="844" y="582" width="1" height="87" fill="#1f5a37"/>
<rect x="843" y="609" width="3" height="60" fill="#5a100c"/>
<rect x="844" y="610" width="1" height="58" fill="#ff6a5f"/>
<rect x="848" y="670" width="1" height="124" fill="#1f5a37"/>
<rect x="847" y="686" width="3" height="7" fill="#5a100c"/>
<rect x="848" y="687" width="1" height="5" fill="#ff6a5f"/>
<rect x="853" y="609" width="1" height="71" fill="#1f5a37"/>
<rect x="852" y="611" width="3" height="69" fill="#0d5a30"/>
<rect x="853" y="612" width="1" height="67" fill="#00c96b"/>
<rect x="857" y="602" width="1" height="29" fill="#1f5a37"/>
<rect x="856" y="603" width="3" height="14" fill="#0d5a30"/>
<rect x="857" y="604" width="1" height="12" fill="#00c96b"/>
<rect x="861" y="595" width="1" height="23" fill="#1f5a37"/>
<rect x="860" y="596" width="3" height="13" fill="#0d5a30"/>
<rect x="861" y="597" width="1" height="11" fill="#00c96b"/>
<rect x="865" y="585" width="1" height="75" fill="#1f5a37"/>
<rect x="864" y="586" width="3" height="71" fill="#5a100c"/>
<rect x="865" y="587" width="1" height="69" fill="#ff6a5f"/>
<rect x="870" y="642" width="1" height="44" fill="#1f5a37"/>
<rect x="869" y="651" width="3" height="21" fill="#0d5a30"/>
<rect x="870" y="652" width="1" height="19" fill="#00c96b"/>
<rect x="874" y="614" width="1" height="56" fill="#1f5a37"/>
<rect x="873" y="620" width="3" height="31" fill="#0d5a30"/>
<rect x="874" y="621" width="1" height="29" fill="#00c96b"/>
<rect x="878" y="565" width="1" height="52" fill="#1f5a37"/>
<rect x="877" y="566" width="3" height="43" fill="#0d5a30"/>
<rect x="878" y="567" width="1" height="41" fill="#00c96b"/>
<rect x="882" y="583" width="1" height="39" fill="#1f5a37"/>
<rect x="881" y="584" width="3" height="12" fill="#5a100c"/>
<rect x="882" y="585" width="1" height="10" fill="#ff6a5f"/>
<rect x="887" y="569" width="1" height="22" fill="#1f5a37"/>
<rect x="886" y="571" width="3" height="9" fill="#0d5a30"/>
<rect x="887" y="572" width="1" height="7" fill="#00c96b"/>
<rect x="891" y="553" width="1" height="36" fill="#1f5a37"/>
<rect x="890" y="559" width="3" height="29" fill="#5a100c"/>
<rect x="891" y="560" width="1" height="27" fill="#ff6a5f"/>
<rect x="895" y="584" width="1" height="37" fill="#1f5a37"/>
<rect x="894" y="588" width="3" height="28" fill="#5a100c"/>
<rect x="895" y="589" width="1" height="26" fill="#ff6a5f"/>
<rect x="900" y="576" width="1" height="44" fill="#1f5a37"/>
<rect x="899" y="612" width="3" height="8" fill="#0d5a30"/>
<rect x="900" y="613" width="1" height="6" fill="#00c96b"/>
<rect x="904" y="563" width="1" height="46" fill="#1f5a37"/>
<rect x="903" y="573" width="3" height="33" fill="#0d5a30"/>
<rect x="904" y="574" width="1" height="31" fill="#00c96b"/>
<rect x="908" y="564" width="1" height="35" fill="#1f5a37"/>
<rect x="907" y="576" width="3" height="20" fill="#5a100c"/>
<rect x="908" y="577" width="1" height="18" fill="#ff6a5f"/>
<rect x="912" y="598" width="1" height="17" fill="#1f5a37"/>
<rect x="911" y="606" width="3" height="1" fill="#0d5a30"/>
<rect x="917" y="585" width="1" height="33" fill="#1f5a37"/>
<rect x="916" y="595" width="3" height="14" fill="#5a100c"/>
<rect x="917" y="596" width="1" height="12" fill="#ff6a5f"/>
<rect x="921" y="570" width="1" height="44" fill="#1f5a37"/>
<rect x="920" y="584" width="3" height="23" fill="#0d5a30"/>
<rect x="921" y="585" width="1" height="21" fill="#00c96b"/>
<rect x="925" y="558" width="1" height="29" fill="#1f5a37"/>
<rect x="924" y="575" width="3" height="3" fill="#0d5a30"/>
<rect x="925" y="576" width="1" height="1" fill="#00c96b"/>
<rect x="929" y="566" width="1" height="38" fill="#1f5a37"/>
<rect x="928" y="572" width="3" height="23" fill="#5a100c"/>
<rect x="929" y="573" width="1" height="21" fill="#ff6a5f"/>
<rect x="934" y="550" width="1" height="41" fill="#1f5a37"/>
<rect x="933" y="553" width="3" height="33" fill="#0d5a30"/>
<rect x="934" y="554" width="1" height="31" fill="#00c96b"/>
<rect x="938" y="552" width="1" height="11" fill="#1f5a37"/>
<rect x="937" y="552" width="3" height="11" fill="#5a100c"/>
<rect x="938" y="553" width="1" height="9" fill="#ff6a5f"/>
<rect x="942" y="553" width="1" height="29" fill="#1f5a37"/>
<rect x="941" y="562" width="3" height="20" fill="#5a100c"/>
<rect x="942" y="563" width="1" height="18" fill="#ff6a5f"/>
<rect x="946" y="585" width="1" height="27" fill="#1f5a37"/>
<rect x="945" y="586" width="3" height="15" fill="#5a100c"/>
<rect x="946" y="587" width="1" height="13" fill="#ff6a5f"/>
<rect x="951" y="553" width="1" height="42" fill="#1f5a37"/>
<rect x="950" y="562" width="3" height="33" fill="#0d5a30"/>
<rect x="951" y="563" width="1" height="31" fill="#00c96b"/>
<rect x="955" y="554" width="1" height="36" fill="#1f5a37"/>
<rect x="954" y="557" width="3" height="15" fill="#5a100c"/>
<rect x="955" y="558" width="1" height="13" fill="#ff6a5f"/>
<rect x="959" y="582" width="1" height="20" fill="#1f5a37"/>
<rect x="958" y="588" width="3" height="4" fill="#5a100c"/>
<rect x="959" y="589" width="1" height="2" fill="#ff6a5f"/>
<rect x="964" y="571" width="1" height="26" fill="#1f5a37"/>
<rect x="963" y="583" width="3" height="12" fill="#0d5a30"/>
<rect x="964" y="584" width="1" height="10" fill="#00c96b"/>
<rect x="968" y="573" width="1" height="28" fill="#1f5a37"/>
<rect x="967" y="584" width="3" height="10" fill="#5a100c"/>
<rect x="968" y="585" width="1" height="8" fill="#ff6a5f"/>
<rect x="972" y="600" width="1" height="44" fill="#1f5a37"/>
<rect x="971" y="604" width="3" height="32" fill="#5a100c"/>
<rect x="972" y="605" width="1" height="30" fill="#ff6a5f"/>
<rect x="976" y="616" width="1" height="28" fill="#1f5a37"/>
<rect x="975" y="623" width="3" height="20" fill="#5a100c"/>
<rect x="976" y="624" width="1" height="18" fill="#ff6a5f"/>
<rect x="981" y="631" width="1" height="35" fill="#1f5a37"/>
<rect x="980" y="638" width="3" height="3" fill="#0d5a30"/>
<rect x="981" y="639" width="1" height="1" fill="#00c96b"/>
<rect x="985" y="610" width="1" height="20" fill="#1f5a37"/>
<rect x="984" y="622" width="3" height="6" fill="#0d5a30"/>
<rect x="985" y="623" width="1" height="4" fill="#00c96b"/>
<rect x="989" y="607" width="1" height="36" fill="#1f5a37"/>
<rect x="988" y="617" width="3" height="20" fill="#5a100c"/>
<rect x="989" y="618" width="1" height="18" fill="#ff6a5f"/>
<rect x="993" y="654" width="1" height="84" fill="#1f5a37"/>
<rect x="992" y="654" width="3" height="71" fill="#5a100c"/>
<rect x="993" y="655" width="1" height="69" fill="#ff6a5f"/>
<rect x="998" y="702" width="1" height="101" fill="#1f5a37"/>
<rect x="997" y="730" width="3" height="12" fill="#0d5a30"/>
<rect x="998" y="731" width="1" height="10" fill="#00c96b"/>
<rect x="1002" y="699" width="1" height="29" fill="#1f5a37"/>
<rect x="1001" y="699" width="3" height="20" fill="#0d5a30"/>
<rect x="1002" y="700" width="1" height="18" fill="#00c96b"/>
<rect x="1006" y="670" width="1" height="46" fill="#1f5a37"/>
<rect x="1005" y="674" width="3" height="30" fill="#0d5a30"/>
<rect x="1006" y="675" width="1" height="28" fill="#00c96b"/>
<rect x="1011" y="640" width="1" height="32" fill="#1f5a37"/>
<rect x="1010" y="644" width="3" height="24" fill="#0d5a30"/>
<rect x="1011" y="645" width="1" height="22" fill="#00c96b"/>
<rect x="1015" y="625" width="1" height="25" fill="#1f5a37"/>
<rect x="1014" y="626" width="3" height="17" fill="#0d5a30"/>
<rect x="1015" y="627" width="1" height="15" fill="#00c96b"/>
<rect x="1019" y="600" width="1" height="28" fill="#1f5a37"/>
<rect x="1018" y="620" width="3" height="2" fill="#0d5a30"/>
<rect x="1023" y="615" width="1" height="28" fill="#1f5a37"/>
<rect x="1022" y="624" width="3" height="12" fill="#5a100c"/>
<rect x="1023" y="625" width="1" height="10" fill="#ff6a5f"/>
<rect x="1028" y="601" width="1" height="34" fill="#1f5a37"/>
<rect x="1027" y="614" width="3" height="21" fill="#0d5a30"/>
<rect x="1028" y="615" width="1" height="19" fill="#00c96b"/>
<rect x="1032" y="617" width="1" height="14" fill="#1f5a37"/>
<rect x="1031" y="620" width="3" height="3" fill="#0d5a30"/>
<rect x="1032" y="621" width="1" height="1" fill="#00c96b"/>
<rect x="1036" y="599" width="1" height="26" fill="#1f5a37"/>
<rect x="1035" y="612" width="3" height="6" fill="#5a100c"/>
<rect x="1036" y="613" width="1" height="4" fill="#ff6a5f"/>
<rect x="1040" y="590" width="1" height="23" fill="#1f5a37"/>
<rect x="1039" y="602" width="3" height="11" fill="#0d5a30"/>
<rect x="1040" y="603" width="1" height="9" fill="#00c96b"/>
<rect x="1045" y="553" width="1" height="59" fill="#1f5a37"/>
<rect x="1044" y="556" width="3" height="51" fill="#0d5a30"/>
<rect x="1045" y="557" width="1" height="49" fill="#00c96b"/>
<rect x="1049" y="538" width="1" height="37" fill="#1f5a37"/>
<rect x="1048" y="546" width="3" height="19" fill="#5a100c"/>
<rect x="1049" y="547" width="1" height="17" fill="#ff6a5f"/>
<rect x="1053" y="561" width="1" height="13" fill="#1f5a37"/>
<rect x="1052" y="567" width="3" height="6" fill="#5a100c"/>
<rect x="1053" y="568" width="1" height="4" fill="#ff6a5f"/>
<rect x="1057" y="562" width="1" height="17" fill="#1f5a37"/>
<rect x="1056" y="565" width="3" height="11" fill="#0d5a30"/>
<rect x="1057" y="566" width="1" height="9" fill="#00c96b"/>
<rect x="1062" y="506" width="1" height="65" fill="#1f5a37"/>
<rect x="1061" y="522" width="3" height="42" fill="#0d5a30"/>
<rect x="1062" y="523" width="1" height="40" fill="#00c96b"/>
<rect x="1066" y="520" width="1" height="26" fill="#1f5a37"/>
<rect x="1065" y="520" width="3" height="19" fill="#5a100c"/>
<rect x="1066" y="521" width="1" height="17" fill="#ff6a5f"/>
<rect x="1070" y="507" width="1" height="57" fill="#1f5a37"/>
<rect x="1069" y="512" width="3" height="46" fill="#0d5a30"/>
<rect x="1070" y="513" width="1" height="44" fill="#00c96b"/>
<rect x="1075" y="469" width="1" height="36" fill="#1f5a37"/>
<rect x="1074" y="471" width="3" height="34" fill="#0d5a30"/>
<rect x="1075" y="472" width="1" height="32" fill="#00c96b"/>
<rect x="1079" y="458" width="1" height="41" fill="#1f5a37"/>
<rect x="1078" y="469" width="3" height="23" fill="#5a100c"/>
<rect x="1079" y="470" width="1" height="21" fill="#ff6a5f"/>
<rect x="1083" y="476" width="1" height="28" fill="#1f5a37"/>
<rect x="1082" y="482" width="3" height="7" fill="#5a100c"/>
<rect x="1083" y="483" width="1" height="5" fill="#ff6a5f"/>
<rect x="1087" y="475" width="1" height="37" fill="#1f5a37"/>
<rect x="1086" y="481" width="3" height="17" fill="#0d5a30"/>
<rect x="1087" y="482" width="1" height="15" fill="#00c96b"/>
<rect x="1092" y="431" width="1" height="41" fill="#1f5a37"/>
<rect x="1091" y="434" width="3" height="36" fill="#0d5a30"/>
<rect x="1092" y="435" width="1" height="34" fill="#00c96b"/>
<rect x="1096" y="406" width="1" height="36" fill="#1f5a37"/>
<rect x="1095" y="427" width="3" height="4" fill="#0d5a30"/>
<rect x="1096" y="428" width="1" height="2" fill="#00c96b"/>
<rect x="1100" y="406" width="1" height="18" fill="#1f5a37"/>
<rect x="1099" y="419" width="3" height="5" fill="#0d5a30"/>
<rect x="1100" y="420" width="1" height="3" fill="#00c96b"/>
<rect x="1104" y="408" width="1" height="37" fill="#1f5a37"/>
<rect x="1103" y="408" width="3" height="18" fill="#0d5a30"/>
<rect x="1104" y="409" width="1" height="16" fill="#00c96b"/>
<rect x="1109" y="335" width="1" height="32" fill="#1f5a37"/>
<rect x="1108" y="348" width="3" height="11" fill="#0d5a30"/>
<rect x="1109" y="349" width="1" height="9" fill="#00c96b"/>
</g>
<clipPath id="lg"><path clip-rule="evenodd" d="M0 870H170V930H0Z M79 887h6v6.3h-6Z"/></clipPath>
<g shape-rendering="auto" style="filter:blur(0.4px)"><g opacity="0.94"><text clip-path="url(#lg)" x="20.5" y="905.7" font-family="Liberation Sans, sans-serif" font-weight="bold" font-size="21.6" textLength="90.2" lengthAdjust="spacingAndGlyphs" fill="#000" stroke="#000" stroke-width="0.7">Investing</text><text x="110.9" y="905.7" font-family="Liberation Sans, sans-serif" font-size="15.3" textLength="29.6" lengthAdjust="spacingAndGlyphs" fill="#666">.com</text></g><ellipse cx="83.1" cy="890.5" rx="2.4" ry="1.5" transform="rotate(-35 83.1 890.5)" fill="#f7a21b"/></g>
<rect x="8" y="922" width="1799" height="1" fill="#555"/>
<rect x="1806" y="58" width="1" height="864" fill="#555"/>
<rect x="1807" y="877" width="3" height="1" fill="#555"/>
<rect x="1807" y="824" width="3" height="1" fill="#555"/>
<rect x="1807" y="771" width="3" height="1" fill="#555"/>
<rect x="1807" y="719" width="3" height="1" fill="#555"/>
<rect x="1807" y="666" width="3" height="1" fill="#555"/>
<rect x="1807" y="613" width="3" height="1" fill="#555"/>
<rect x="1807" y="560" width="3" height="1" fill="#555"/>
<rect x="1807" y="507" width="3" height="1" fill="#555"/>
<rect x="1807" y="455" width="3" height="1" fill="#555"/>
<rect x="1807" y="402" width="3" height="1" fill="#555"/>
<rect x="1807" y="349" width="3" height="1" fill="#555"/>
<rect x="1807" y="296" width="3" height="1" fill="#555"/>
<rect x="1807" y="243" width="3" height="1" fill="#555"/>
<rect x="1807" y="191" width="3" height="1" fill="#555"/>
<rect x="1807" y="138" width="3" height="1" fill="#555"/>
<rect x="1807" y="85" width="3" height="1" fill="#555"/>
<rect x="51" y="923" width="1" height="3" fill="#555"/>
<rect x="145" y="923" width="1" height="3" fill="#555"/>
<rect x="273" y="923" width="1" height="3" fill="#555"/>
<rect x="367" y="923" width="1" height="3" fill="#555"/>
<rect x="495" y="923" width="1" height="3" fill="#555"/>
<rect x="589" y="923" width="1" height="3" fill="#555"/>
<rect x="717" y="923" width="1" height="3" fill="#555"/>
<rect x="794" y="923" width="1" height="3" fill="#555"/>
<rect x="943" y="923" width="1" height="3" fill="#555"/>
<rect x="1033" y="923" width="1" height="3" fill="#555"/>
<rect x="1165" y="923" width="1" height="3" fill="#555"/>
<rect x="1255" y="923" width="1" height="3" fill="#555"/>
<rect x="1387" y="923" width="1" height="3" fill="#555"/>
<rect x="1481" y="923" width="1" height="3" fill="#555"/>
<rect x="1609" y="923" width="1" height="3" fill="#555"/>
<g shape-rendering="auto" stroke="#000" fill="none"><line x1="1271.5" y1="212.5" x2="1144.2" y2="344.7" stroke-width="3"/><line x1="1147.4" y1="328.6" x2="1143.3" y2="346.2" stroke-width="3"/><line x1="1160.3" y1="340.4" x2="1142.7" y2="345.6" stroke-width="3"/><circle cx="1097.4" cy="389.45" r="7.9" fill="#1090f2" stroke="none"/></g>
<text x="1097.7" y="392.1" text-anchor="middle" font-family="Liberation Sans, sans-serif" font-weight="bold" font-size="10.3" stroke="#fff" stroke-width="0.3" fill="#fff" shape-rendering="auto">P</text>
<g id="a1" font-family="DejaVu Sans, sans-serif" font-size="31" fill="#000" direction="rtl" text-anchor="start" shape-rendering="auto">
<text transform="translate(1536.66,191.8) scale(0.9806,1)">هل</text>
<text transform="translate(1486.52,191.8) scale(0.9089,1)">سنشاهد</text>
<text transform="translate(1379.79,191.8) scale(1.0959,1)">جزيرة</text>
<text transform="translate(1281.92,191.8) scale(0.9595,1)">هاشيما</text>
</g>
<g id="a2" font-family="DejaVu Sans, sans-serif" font-size="31" fill="#000" direction="rtl" text-anchor="start" shape-rendering="auto">
<text transform="translate(1019.33,396.3) scale(0.966,1)">قاب</text>
<text transform="translate(956.09,396.3) scale(1.0929,1)">تاريخي</text>
<text transform="translate(849.74,396.3) scale(0.9216,1)">في</text>
<text transform="translate(801.05,396.3) scale(0.9506,1)">السوق</text>
<text transform="translate(708.35,396.3) scale(1.0176,1)">الياباني</text>
</g>
<g id="a3" font-family="DejaVu Sans, sans-serif" font-size="31" fill="#000" direction="rtl" text-anchor="start" shape-rendering="auto">
<text transform="translate(771.93,435.6) scale(0.9667,1)">قمة</text>
<text transform="translate(714.62,435.6) scale(1.1212,1)">تاريخية</text>
</g>
<rect x="1806" y="341" width="57" height="16" fill="#4169e1"/>
<rect x="1806" y="348" width="4" height="1" fill="#fff"/>
</svg>
<div class="t pub">Published on Investing.com, 7/Oct/2025 - 19:02:32 GMT, Powered by TradingView.</div>
<div class="t sym">W ,522PJ<bdi dir="rtl" class="sa sa1">نابايلا</bdi>, <bdi dir="rtl" class="sa sa2">ويكوط</bdi> Nikkei 225,</div>
<div class="t yl" style="top:872.6px">28000.00</div>
<div class="t yl" style="top:819.6px">30000.00</div>
<div class="t yl" style="top:766.6px">32000.00</div>
<div class="t yl" style="top:714.6px">34000.00</div>
<div class="t yl" style="top:661.6px">36000.00</div>
<div class="t yl" style="top:608.6px">38000.00</div>
<div class="t yl" style="top:555.6px">40000.00</div>
<div class="t yl" style="top:502.6px">42000.00</div>
<div class="t yl" style="top:450.6px">44000.00</div>
<div class="t yl" style="top:397.6px">46000.00</div>
<div class="t yl" style="top:344.6px">48000.00</div>
<div class="t yl" style="top:291.6px">50000.00</div>
<div class="t yl" style="top:238.6px">52000.00</div>
<div class="t yl" style="top:186.6px">54000.00</div>
<div class="t yl" style="top:133.6px">56000.00</div>
<div class="t yl" style="top:80.6px">58000.00</div>
<div class="t pl">48031.50</div>
<div class="t xl" style="left:51.0px">2021</div>
<div class="t xl" style="left:145.0px">Jun</div>
<div class="t xl" style="left:273.0px">2022</div>
<div class="t xl" style="left:367.0px">Jun</div>
<div class="t xl" style="left:495.0px">2023</div>
<div class="t xl" style="left:589.0px">Jun</div>
<div class="t xl" style="left:717.0px">2024</div>
<div class="t xl" style="left:794.0px">May</div>
<div class="t xl" style="left:943.0px">2025</div>
<div class="t xl" style="left:1033.0px">Jun</div>
<div class="t xl" style="left:1165.0px">2026</div>
<div class="t xl" style="left:1255.0px">Jun</div>
<div class="t xl" style="left:1387.0px">2027</div>
<div class="t xl" style="left:1481.0px">Jun</div>
<div class="t xl" style="left:1609.0px">2028</div>
</body></html>
